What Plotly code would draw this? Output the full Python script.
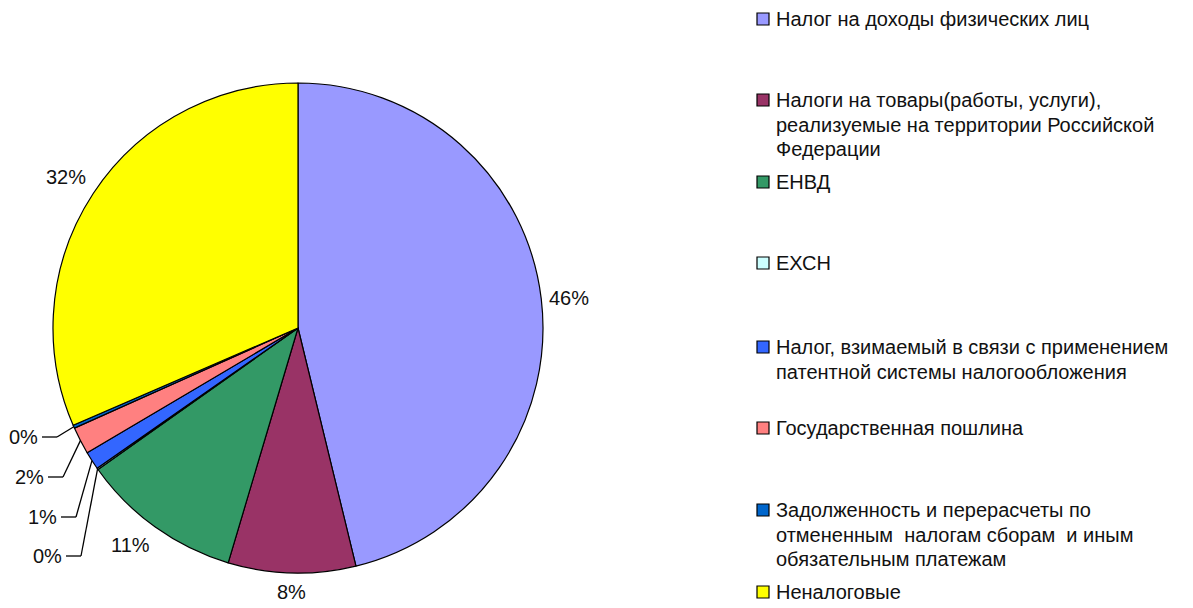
import math
import plotly.graph_objects as go

# ---------------- data ----------------
categories = [
    "Налог на доходы физических лиц",
    "Налоги на товары(работы, услуги),<br>реализуемые на территории Российской<br>Федерации",
    "ЕНВД",
    "ЕХСН",
    "Налог, взимаемый в связи с применением<br>патентной системы налогообложения",
    "Государственная пошлина",
    "Задолженность и перерасчеты по<br>отмененным  налогам сборам  и иным<br>обязательным платежам",
    "Неналоговые",
]
shares = [46.2, 8.4, 10.6, 0.1, 1.2, 1.8, 0.2, 31.5]
colors = ["#9999FF", "#993366", "#339966", "#CCFFFF",
          "#3366FF", "#FF8080", "#0066CC", "#FFFF00"]

# ---------------- layout constants ----------------
W, H = 1193, 608
CX, CY, R = 298, 328, 245          # pie centre / radius in pixels
FONT = "Liberation Sans, Arial, sans-serif"
FS = 20
LINE_H = 24.5
small_limit = 3.0                   # slices below this get callout lines
callout_elbows = [(81, 556), (76, 517), (63, 477), (57, 437)]  # bottom to top
legend_rows = [19, 100, 182, 263, 347, 428, 510, 592]


def px(x):
    return x / W


def py(y):
    return 1 - y / H


fig = go.Figure()
fig.add_trace(go.Pie(
    labels=categories,
    values=shares,
    sort=False,
    direction="clockwise",
    rotation=0,
    marker=dict(colors=colors, line=dict(color="#000000", width=1.2)),
    textinfo="none",
    hoverinfo="label+percent",
    showlegend=False,
    domain=dict(x=[px(CX - R), px(CX + R)], y=[py(CY + R), py(CY - R)]),
))

annotations = []
shapes = []
total = sum(shares)
cum = 0.0
small_idx = 0
font = dict(size=FS, family=FONT, color="#111")
for name, v in zip(categories, shares):
    mid = (cum + v / 2) / total * 2 * math.pi
    cum += v
    s, c = math.sin(mid), math.cos(mid)
    pct = f"{round(v / total * 100):d}%"
    if v < small_limit:
        rx, ry = CX + R * s, CY - R * c
        ex, ey = callout_elbows[small_idx]
        small_idx += 1
        hx = ex - 15
        shapes.append(dict(type="line", xref="paper", yref="paper",
                           x0=px(rx), y0=py(ry), x1=px(ex), y1=py(ey),
                           line=dict(color="#000", width=1.3)))
        shapes.append(dict(type="line", xref="paper", yref="paper",
                           x0=px(ex), y0=py(ey), x1=px(hx), y1=py(ey),
                           line=dict(color="#000", width=1.3)))
        annotations.append(dict(x=px(hx - 2), y=py(ey), xref="paper", yref="paper",
                                text=pct, showarrow=False, xanchor="right",
                                yanchor="middle", font=font))
    else:
        d = R + 6
        ax, ay = CX + d * s, CY - d * c
        xa = "left" if s > 0.3 else ("right" if s < -0.3 else "center")
        ya = "top" if c < -0.3 else ("bottom" if c > 0.3 else "middle")
        annotations.append(dict(x=px(ax), y=py(ay), xref="paper", yref="paper",
                                text=pct, showarrow=False, xanchor=xa, yanchor=ya,
                                font=font))

# legend (drawn manually to reproduce the spread-out layout)
for name, col, row in zip(categories, colors, legend_rows):
    shapes.append(dict(type="rect", xref="paper", yref="paper",
                       x0=px(757), x1=px(769), y0=py(row - 6), y1=py(row + 6),
                       fillcolor=col, line=dict(color="#000", width=1.2)))
    for k, line in enumerate(name.split("<br>")):
        annotations.append(dict(x=px(774), y=py(row + k * LINE_H), xref="paper", yref="paper",
                                text=line, showarrow=False, xanchor="left", yanchor="middle",
                                align="left", font=font))

fig.update_layout(
    width=W, height=H,
    margin=dict(l=0, r=0, t=0, b=0),
    paper_bgcolor="#FFFFFF",
    plot_bgcolor="#FFFFFF",
    annotations=annotations,
    shapes=shapes,
)
fig.write_html("out.html", config={"displayModeBar": False},
               post_script="document.body.style.margin='0';")
